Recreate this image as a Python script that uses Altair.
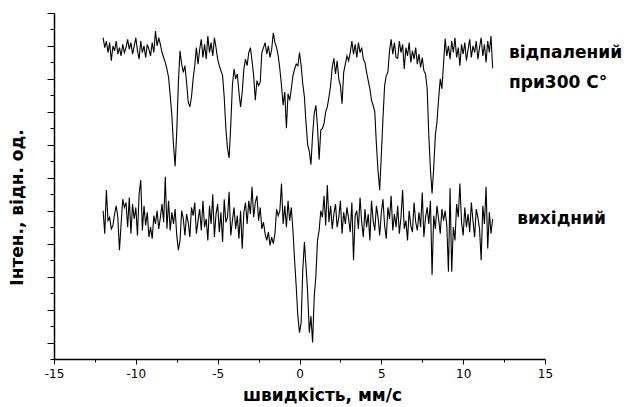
import altair as alt
import pandas as pd

velocity = [
    -12.0, -11.9, -11.8, -11.7, -11.6, -11.5, -11.4, -11.3, -11.2, -11.1,
    -11.0, -10.9, -10.8, -10.7, -10.6, -10.5, -10.4, -10.3, -10.2, -10.1,
    -10.0, -9.9, -9.8, -9.7, -9.6, -9.5, -9.4, -9.3, -9.2, -9.1,
    -9.0, -8.9, -8.8, -8.7, -8.6, -8.5, -8.4, -8.3, -8.2, -8.1,
    -8.0, -7.9, -7.8, -7.7, -7.6, -7.5, -7.4, -7.3, -7.2, -7.1,
    -7.0, -6.9, -6.8, -6.7, -6.6, -6.5, -6.4, -6.3, -6.2, -6.1,
    -6.0, -5.9, -5.8, -5.7, -5.6, -5.5, -5.4, -5.3, -5.2, -5.1,
    -5.0, -4.9, -4.8, -4.7, -4.6, -4.5, -4.4, -4.3, -4.2, -4.1,
    -4.0, -3.9, -3.8, -3.7, -3.6, -3.5, -3.4, -3.3, -3.2, -3.1,
    -3.0, -2.9, -2.8, -2.7, -2.6, -2.5, -2.4, -2.3, -2.2, -2.1,
    -2.0, -1.9, -1.8, -1.7, -1.6, -1.5, -1.4, -1.3, -1.2, -1.1,
    -1.0, -0.9, -0.8, -0.7, -0.6, -0.5, -0.4, -0.3, -0.2, -0.1,
    0.0, 0.1, 0.2, 0.3, 0.4, 0.5, 0.6, 0.7, 0.8, 0.9,
    1.0, 1.1, 1.2, 1.3, 1.4, 1.5, 1.6, 1.7, 1.8, 1.9,
    2.0, 2.1, 2.2, 2.3, 2.4, 2.5, 2.6, 2.7, 2.8, 2.9,
    3.0, 3.1, 3.2, 3.3, 3.4, 3.5, 3.6, 3.7, 3.8, 3.9,
    4.0, 4.1, 4.2, 4.3, 4.4, 4.5, 4.6, 4.7, 4.8, 4.9,
    5.0, 5.1, 5.2, 5.3, 5.4, 5.5, 5.6, 5.7, 5.8, 5.9,
    6.0, 6.1, 6.2, 6.3, 6.4, 6.5, 6.6, 6.7, 6.8, 6.9,
    7.0, 7.1, 7.2, 7.3, 7.4, 7.5, 7.6, 7.7, 7.8, 7.9,
    8.0, 8.1, 8.2, 8.3, 8.4, 8.5, 8.6, 8.7, 8.8, 8.9,
    9.0, 9.1, 9.2, 9.3, 9.4, 9.5, 9.6, 9.7, 9.8, 9.9,
    10.0, 10.1, 10.2, 10.3, 10.4, 10.5, 10.6, 10.7, 10.8, 10.9,
    11.0, 11.1, 11.2, 11.3, 11.4, 11.5, 11.6, 11.7, 11.8,
]

annealed = [
    19.5, 18.9, 19.3, 18.6, 19.2, 18.1, 19.0, 18.7, 19.3, 18.5,
    18.9, 18.4, 19.1, 18.6, 18.9, 19.4, 18.8, 19.2, 18.5, 19.0,
    19.5, 18.7, 18.2, 19.3, 18.6, 19.0, 18.3, 19.1, 18.8, 18.4,
    19.2, 18.6, 19.9, 19.0, 19.5, 19.1, 18.6, 18.3, 18.0, 17.6,
    17.1, 16.0, 14.8, 13.0, 11.7, 13.8, 16.8, 18.7, 17.9, 17.4,
    17.8, 16.8, 15.6, 15.3, 15.9, 17.0, 17.8, 18.9, 17.9, 18.8,
    19.4, 18.3, 19.1, 18.2, 19.6, 18.6, 19.2, 18.4, 19.5, 18.9,
    18.2, 17.8, 17.5, 17.2, 15.9, 14.0, 12.8, 12.2, 14.2, 16.6,
    17.6, 17.0, 17.3, 16.2, 15.3, 16.2, 17.6, 18.2, 17.8, 18.6,
    18.9, 18.1, 17.2, 15.7, 16.9, 16.6, 16.8, 18.6, 18.9, 19.2,
    18.5, 19.0, 18.3, 18.8, 19.8, 19.2, 18.9, 18.4, 17.6, 16.6,
    15.4, 16.2, 14.0, 16.1, 15.7, 16.4, 17.2, 17.6, 17.9, 17.8,
    18.6, 17.8, 16.7, 15.9, 14.3, 13.0, 12.6, 11.8, 13.6, 14.9,
    15.4, 14.1, 12.1, 13.9, 14.0, 14.3, 15.0, 15.3, 15.9, 16.6,
    17.7, 18.25, 17.3, 18.1, 17.0, 16.6, 15.5, 17.4, 17.9, 18.4,
    18.1, 18.6, 19.3, 18.5, 19.1, 18.3, 19.2, 18.6, 18.9, 18.2,
    18.0, 17.4, 16.9, 16.4, 15.7, 15.4, 15.0, 13.0, 11.4, 10.25,
    12.4, 14.6, 16.6, 17.2, 17.4, 18.7, 19.4, 18.5, 19.2, 18.3,
    18.25, 19.3, 18.6, 19.1, 17.6, 18.9, 18.4, 19.2, 18.0, 18.7,
    18.2, 18.9, 17.9, 18.5, 17.7, 18.3, 17.5, 17.3, 16.4, 13.6,
    11.5, 10.05, 11.6, 13.6, 14.4, 15.8, 17.0, 16.4, 17.9, 19.45,
    18.4, 19.0, 18.2, 19.3, 18.6, 19.5, 18.3, 18.9, 17.8, 19.1,
    18.5, 19.2, 18.1, 18.8, 19.4, 18.3, 19.0, 18.6, 19.3, 18.2,
    18.9, 19.5, 18.4, 19.1, 18.0, 19.3, 18.6, 19.6, 17.65,
]

initial = [
    9.0, 7.6, 10.25, 8.4, 8.6, 7.9, 8.1, 8.8, 9.3, 8.6,
    6.6, 8.2, 9.7, 9.2, 9.5, 8.0, 9.8, 7.6, 9.4, 8.5,
    9.2, 7.5, 10.0, 10.86, 7.8, 9.3, 8.1, 8.9, 7.4, 8.0,
    7.3, 8.7, 8.2, 9.0, 7.9, 8.6, 9.4, 8.3, 11.06, 7.9,
    9.6, 7.8, 8.9, 8.2, 9.1, 7.5, 6.6, 7.2, 9.0, 8.5,
    7.5, 8.8, 8.3, 7.4, 9.2, 8.7, 9.5, 7.6, 8.4, 9.1,
    7.8, 9.6, 8.0, 8.5, 7.2, 9.3, 8.2, 10.0, 7.4, 8.8,
    9.4, 7.7, 8.9, 7.1, 9.7, 8.3, 8.6, 10.15, 7.5, 8.4,
    9.2, 7.9, 8.7, 7.3, 9.0, 6.7, 8.9, 9.5, 8.2, 9.6,
    8.8, 10.45, 8.6, 9.5, 9.9, 8.4, 9.2, 7.9, 8.3, 7.6,
    7.2, 7.7, 6.9, 7.4, 7.0, 7.6, 9.1, 8.7, 9.0, 10.65,
    8.2, 9.3, 8.0, 9.6, 8.4, 9.2, 7.8, 6.0, 4.4, 2.6,
    1.6, 2.2, 5.4, 7.1, 5.6, 4.0, 1.6, 2.6, 1.0, 3.8,
    5.0, 7.2, 7.8, 9.0, 8.6, 9.9, 8.1, 10.56, 8.3, 9.3,
    7.9, 8.8, 9.4, 8.0, 8.6, 9.6, 7.6, 8.9, 8.2, 9.2,
    8.5, 7.7, 9.5, 6.0, 8.7, 9.0, 7.9, 9.8, 8.3, 7.4,
    9.1, 8.0, 8.8, 7.2, 9.6, 8.4, 7.8, 9.3, 8.6, 7.5,
    8.9, 9.7, 8.1, 7.3, 9.2, 8.5, 9.9, 7.8, 8.8, 8.0,
    9.3, 7.6, 8.6, 10.25, 7.9, 8.4, 7.2, 9.0, 8.1, 7.7,
    9.5, 8.3, 7.8, 8.9, 8.0, 10.1, 7.4, 8.6, 9.2, 8.2,
    9.6, 5.1, 8.7, 7.9, 9.3, 8.5, 7.6, 9.1, 8.4, 9.0,
    8.1, 5.3, 10.36, 5.3, 8.0, 7.2, 9.4, 8.6, 10.65, 8.3,
    7.5, 9.2, 8.0, 8.8, 7.7, 9.5, 8.4, 7.4, 9.1, 8.6,
    7.9, 6.0, 9.3, 8.2, 10.45, 6.7, 8.9, 7.6, 8.5,
]

label_texts = ["відпалений", "при300 С°", "вихідний"]
label_x = [12.8, 12.8, 13.3]
label_y = [18.55, 16.75, 8.5]

x_ticks = [-15, -12.5, -10, -7.5, -5, -2.5, 0, 2.5, 5, 7.5, 10, 12.5, 15]
y_ticks = list(range(0, 22))

n = len(velocity)
df = pd.DataFrame({
    "v": velocity + velocity,
    "I": annealed + initial,
    "s": ["відпалений"] * n + ["вихідний"] * n,
})
lab = pd.DataFrame({"x": label_x, "y": label_y, "t": label_texts})

x_scale = alt.Scale(domain=[-15, 15], nice=False, zero=False)
y_scale = alt.Scale(domain=[0, 21], nice=False, zero=False)

x_axis = alt.Axis(
    values=x_ticks,
    title="швидкість, мм/с",
    labelExpr="datum.value % 5 === 0 ? '' + datum.value : ''",
    tickSize={"condition": {"test": "datum.value % 5 !== 0", "value": 3}, "value": 5},
    labelFlush=False,
    labelOverlap=False,
    labelPadding=4,
    titlePadding=8,
    titleX=268,
    grid=False,
)
y_axis = alt.Axis(
    values=y_ticks,
    labels=False,
    labelOverlap=False,
    title="Інтен., відн. од.",
    tickSize={"condition": {"test": "datum.value % 2 === 1", "value": 7}, "value": 4},
    titlePadding=20,
    titleY=194,
    grid=False,
)

lines = alt.Chart(df).mark_line(color="black", strokeWidth=1.1).encode(
    x=alt.X("v:Q", scale=x_scale, axis=x_axis),
    y=alt.Y("I:Q", scale=y_scale, axis=y_axis),
    detail="s:N",
)

texts = alt.Chart(lab).mark_text(
    align="left", baseline="middle", font="DejaVu Sans", fontWeight="bold",
    fontSize=17, color="black"
).encode(
    x=alt.X("x:Q", scale=x_scale, axis=x_axis),
    y=alt.Y("y:Q", scale=y_scale, axis=y_axis),
    text="t:N",
)

chart = alt.layer(lines, texts).properties(
    width=491,
    height=346,
    autosize=alt.AutoSizeParams(type="none"),
    padding={"left": 46, "top": 5, "right": 80, "bottom": 46},
).configure_view(stroke=None).configure_axis(
    domainColor="black",
    domainWidth=1.5,
    tickColor="black",
    tickWidth=1,
    labelFont="DejaVu Sans",
    labelFontSize=12,
    labelColor="black",
    titleFont="DejaVu Sans",
    titleFontWeight="bold",
    titleFontSize=17,
    titleColor="black",
)

chart.save("out.html", embed_options={"renderer": "svg", "actions": False})
